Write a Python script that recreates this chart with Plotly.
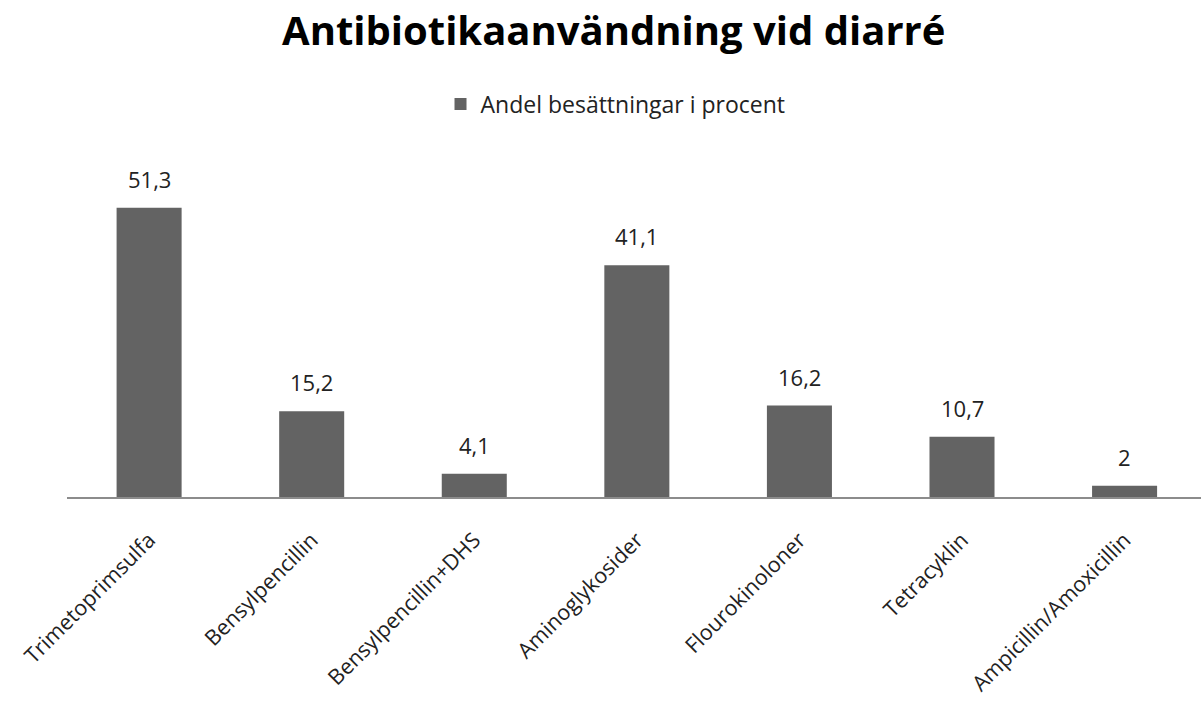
import plotly.graph_objects as go

categories = ["Trimetoprimsulfa", "Bensylpencillin", "Bensylpencillin+DHS",
              "Aminoglykosider", "Flourokinoloner", "Tetracyklin", "Ampicillin/Amoxicillin"]
values = [51.3, 15.2, 4.1, 41.1, 16.2, 10.7, 2]
series_name = "Andel besättningar i procent"
title_text = "Antibiotikaanvändning vid diarré"

labels = [(f"{v:g}").replace(".", ",") for v in values]

fig = go.Figure(go.Bar(
    x=categories, y=values, name=series_name,
    marker=dict(color="#636363", line=dict(width=0)),
    showlegend=True,
))

for c, v, t in zip(categories, values, labels):
    fig.add_annotation(x=c, y=v, text=t, showarrow=False, yanchor="bottom",
                       yshift=12, font=dict(family="Open Sans", size=22, color="#222222"))

fig.update_layout(
    width=1201, height=706,
    margin=dict(l=67, r=0, t=158, b=209, autoexpand=False),
    paper_bgcolor="white", plot_bgcolor="white",
    bargap=0.6,
    font=dict(family="Open Sans", size=18, color="#222222"),
    title=dict(text=f"<b>{title_text}</b>", x=0.511, xref="container", xanchor="center",
               y=1 - 31 / 706, yref="container", yanchor="middle",
               font=dict(family="Open Sans", size=40, color="black")),
    legend=dict(orientation="h", x=0.5125, xref="container", xanchor="center",
                y=1 - 104 / 706, yref="container", yanchor="middle",
                font=dict(family="Open Sans", size=23, color="#222222"),
                itemwidth=30, traceorder="normal"),
    xaxis=dict(showline=True, linecolor="#8c8c8c", linewidth=2, ticks="",
               tickangle=-45, tickfont=dict(family="Open Sans", size=21.5, color="#222222"),
               ticklabelstandoff=20, automargin=False, range=[-0.505, 6.47],
               showgrid=False, zeroline=False),
    yaxis=dict(range=[0, 60.1], visible=False, showgrid=False, zeroline=False),
)

fig.write_html("out.html", config={"displayModeBar": False},
               post_script="document.body.style.margin='0px';")
